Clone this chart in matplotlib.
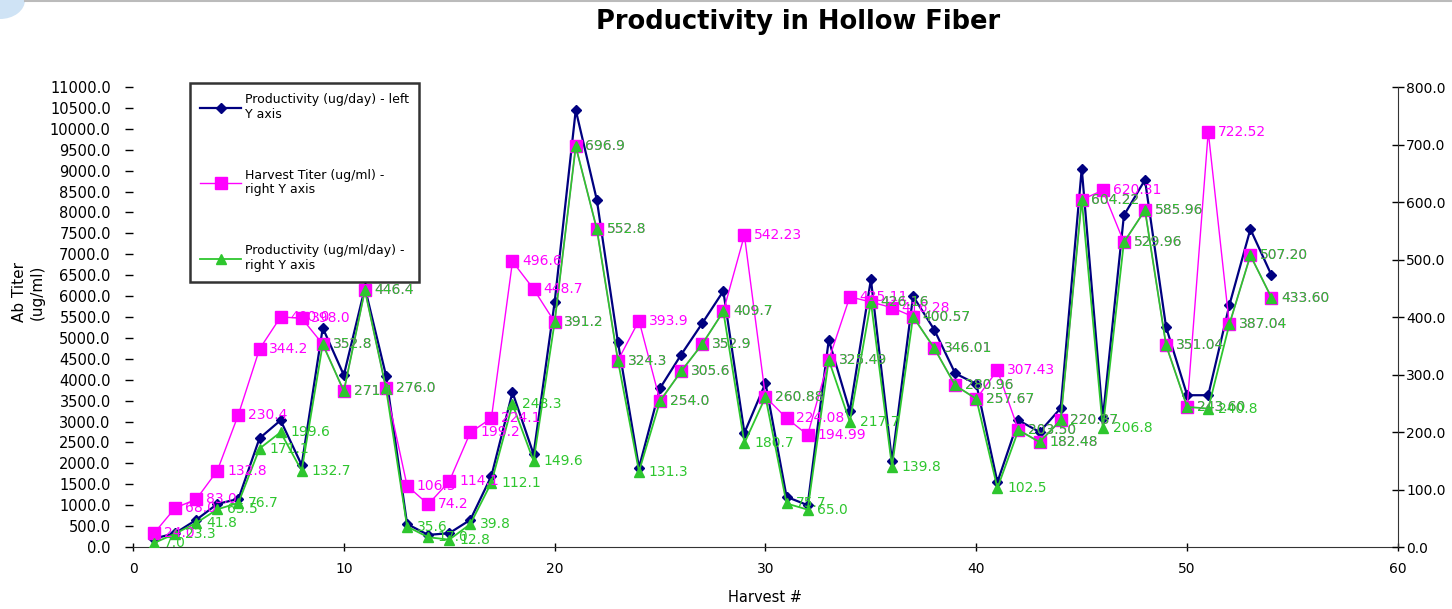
import numpy as np
import matplotlib
matplotlib.use('Agg')
import matplotlib.pyplot as plt
from matplotlib.patches import Ellipse
from matplotlib.lines import Line2D

plt.rcParams['font.family'] = ['DejaVu Sans']

# ---- data ----
harvest = list(range(1, 55))

prod_ug_day = [200, 330, 650, 1030, 1150, 2600, 3030, 1960, 5240, 4110,
               6200, 4100, 550, 290, 330, 650, 1700, 3700, 2220, 5860,
               10450, 8300, 4900, 1900, 3800, 4600, 5350, 6120, 2730, 3920,
               1200, 1000, 4950, 3250, 6400, 2050, 6000, 5200, 4150, 3900,
               1550, 3030, 2750, 3320, 9050, 3080, 7930, 8780, 5260, 3630,
               3630, 5780, 7600, 6500]

harvest_titer = [24.0, 68.0, 83.0, 132.8, 230.4, 344.2, 400.0, 398.0, 352.8, 271.1,
                 446.4, 276.0, 106.5, 74.2, 114.1, 199.2, 224.1, 496.6, 448.7, 391.2,
                 696.9, 552.8, 324.3, 393.9, 254.0, 305.6, 352.9, 409.7, 542.23, 260.88,
                 224.08, 194.99, 325.49, 435.11, 426.16, 416.28, 400.57, 346.01, 280.96, 257.67,
                 307.43, 203.50, 182.48, 220.37, 604.22, 620.31, 529.96, 585.96, 351.04, 243.60,
                 722.52, 387.04, 507.20, 433.60]

prod_ug_ml_day = [7.0, 23.3, 41.8, 65.5, 76.7, 171.1, 199.6, 132.7, 352.8, 271.1,
                  446.4, 276.0, 35.6, 17.0, 12.8, 39.8, 112.1, 248.3, 149.6, 391.2,
                  696.9, 552.8, 324.3, 131.3, 254.0, 305.6, 352.9, 409.7, 180.7, 260.88,
                  75.7, 65.0, 325.49, 217.7, 426.16, 139.8, 400.57, 346.01, 280.96, 257.67,
                  102.5, 203.50, 182.48, 220.37, 604.22, 206.8, 529.96, 585.96, 351.04, 243.60,
                  240.8, 387.04, 507.20, 433.60]

navy = '#000080'
magenta = '#FF00FF'
green = '#2EC62E'

fig = plt.figure(figsize=(14.52, 6.09), dpi=100)
ax = fig.add_axes([0.0916, 0.1018, 0.8712, 0.7553])
ax2 = ax.twinx()

# left axis series
ax.plot(harvest, prod_ug_day, color=navy, linewidth=1.6, marker='D',
        markersize=5, zorder=3)
ax.set_xlim(0, 60)
ax.set_ylim(0, 11000)
ax.set_yticks(np.arange(0, 11001, 500))
ax.set_yticklabels([f'{v:.1f}' for v in np.arange(0, 11001, 500)])
ax.set_xticks(range(0, 61, 10))

# right axis series
ax2.plot(harvest, harvest_titer, color=magenta, linewidth=1.0, marker='s',
         markersize=9, zorder=2)
ax2.plot(harvest, prod_ug_ml_day, color=green, linewidth=1.3, marker='^',
         markersize=7, zorder=3)
ax2.set_ylim(0, 800)
ax2.set_yticks(np.arange(0, 801, 100))
ax2.set_yticklabels([f'{v:.1f}' for v in np.arange(0, 801, 100)])

# data labels
for i, (h, t, g) in enumerate(zip(harvest, harvest_titer, prod_ug_ml_day)):
    fmt_t = '{:.2f}' if i >= 28 else '{:.1f}'
    ax2.annotate(fmt_t.format(t), (h, t), xytext=(7, 0), textcoords='offset points',
                 color=magenta, fontsize=10, va='center', zorder=4)
    fmt_g = fmt_t if g == t else '{:.1f}'
    ax2.annotate(fmt_g.format(g), (h, g), xytext=(7, 0), textcoords='offset points',
                 color=green, fontsize=10, va='center', zorder=5)

# axes styling
for a in (ax, ax2):
    a.spines['top'].set_visible(False)
    a.spines['left'].set_visible(False)
ax.spines['right'].set_visible(False)
ax.spines['bottom'].set_color('#333333')
ax2.spines['right'].set_color('#333333')
ax2.spines['bottom'].set_visible(False)
ax.tick_params(axis='y', length=6, width=1, pad=10, labelsize=10.5, direction='out')
ax.tick_params(axis='x', length=6, width=1, pad=8, labelsize=10, direction='inout')
ax2.tick_params(axis='y', length=8, width=1, pad=2, labelsize=10, direction='inout')

ax.set_xlabel('Harvest #', fontsize=10.5, labelpad=10)
ax.set_ylabel('Ab Titer\n(ug/ml)', fontsize=11)
ax.yaxis.set_label_coords(-0.07, 0.554)

# legend
handles = [
    Line2D([], [], color=navy, linewidth=1.6, marker='D', markersize=5),
    Line2D([], [], color=magenta, linewidth=1.0, marker='s', markersize=9),
    Line2D([], [], color=green, linewidth=1.3, marker='^', markersize=7),
]
labels = ['Productivity (ug/day) - left\nY axis',
          'Harvest Titer (ug/ml) -\nright Y axis',
          'Productivity (ug/ml/day) -\nright Y axis']
leg = fig.legend(handles, labels, loc='upper left',
                 bbox_to_anchor=(190 / 1452, 1 - 83 / 609), borderaxespad=0,
                 fontsize=9, frameon=True, fancybox=False, labelspacing=3.8,
                 handlelength=3.3, borderpad=0.8, handletextpad=0.3)
leg.get_frame().set_edgecolor('black')
leg.get_frame().set_linewidth(1.8)

# title
fig.text(798 / 1452, 1 - 22 / 609, 'Productivity in Hollow Fiber',
         ha='center', va='center', fontsize=18.5, fontweight='bold')

# page decorations
fig.add_artist(Line2D([25 / 1452, 1.0], [0.998, 0.998], color='#bbbbbb', linewidth=1.5,
                      transform=fig.transFigure))
fig.add_artist(Ellipse((0.0, 1.0), 2 * 25 / 1452, 2 * 19 / 609, transform=fig.transFigure,
                       facecolor='#cfe3f5', edgecolor='none', zorder=-1))

fig.savefig('out.png', dpi=100, facecolor='white')
